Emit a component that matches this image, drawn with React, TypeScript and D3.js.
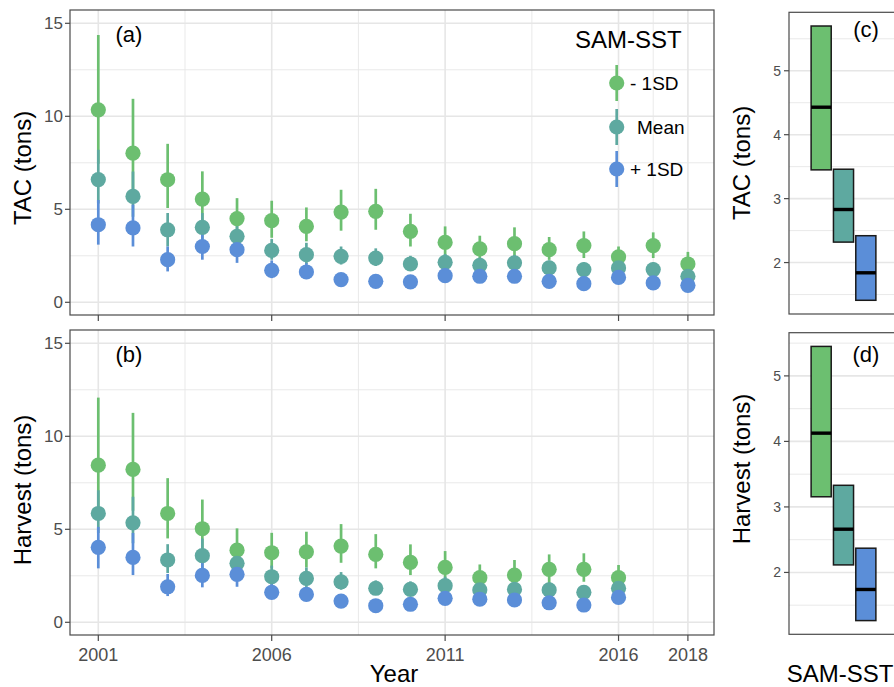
import React from "react";
import * as d3 from "d3";

const FONT = "'Liberation Sans', Arial, Helvetica, sans-serif";

// categories
const seriesNames = ["- 1SD", "Mean", "+ 1SD"];
const seriesColors = ["#6cbf70", "#5ea9a0", "#5b8ed8"];

const tacYears = [2001, 2002, 2003, 2004, 2005, 2006, 2007, 2008, 2009, 2010, 2011, 2012, 2013, 2014, 2015, 2016, 2017, 2018];
const harvestYears = [2001, 2002, 2003, 2004, 2005, 2006, 2007, 2008, 2009, 2010, 2011, 2012, 2013, 2014, 2015, 2016];

// TAC (tons), panel (a)
const tacMinusMid = [10.35, 8.02, 6.59, 5.55, 4.5, 4.39, 4.08, 4.85, 4.89, 3.81, 3.22, 2.87, 3.15, 2.83, 3.05, 2.44, 3.05, 2.06];
const tacMinusHi = [14.37, 10.94, 8.52, 7.04, 5.6, 5.46, 5.1, 6.05, 6.1, 4.76, 4.08, 3.58, 4.03, 3.51, 3.81, 3.0, 3.76, 2.71];
const tacMinusLo = [7.45, 5.9, 5.07, 4.4, 3.6, 3.47, 3.28, 3.85, 3.9, 3.0, 2.5, 2.3, 2.45, 2.28, 2.38, 1.98, 2.38, 1.6];

const tacMeanMid = [6.6, 5.69, 3.9, 4.03, 3.55, 2.79, 2.56, 2.47, 2.38, 2.06, 2.15, 1.99, 2.12, 1.85, 1.76, 1.85, 1.76, 1.4];
const tacMeanHi = [8.2, 7.03, 4.8, 4.8, 4.3, 3.4, 3.2, 3.0, 2.9, 2.5, 2.6, 2.4, 2.55, 2.25, 2.15, 2.25, 2.15, 1.7];
const tacMeanLo = [5.31, 4.6, 3.0, 3.38, 2.93, 2.29, 2.05, 2.03, 1.95, 1.7, 1.78, 1.65, 1.76, 1.52, 1.44, 1.52, 1.44, 1.15];

const tacPlusMid = [4.17, 4.0, 2.29, 3.0, 2.83, 1.72, 1.63, 1.22, 1.13, 1.1, 1.43, 1.4, 1.4, 1.13, 1.0, 1.34, 1.04, 0.91];
const tacPlusHi = [5.5, 5.25, 3.0, 3.8, 3.6, 2.25, 2.1, 1.55, 1.45, 1.4, 1.8, 1.75, 1.75, 1.45, 1.28, 1.7, 1.35, 1.18];
const tacPlusLo = [3.1, 3.0, 1.66, 2.29, 2.12, 1.3, 1.25, 0.95, 0.88, 0.86, 1.12, 1.1, 1.1, 0.88, 0.78, 1.05, 0.8, 0.7];

// Harvest (tons), panel (b)
const harvMinusMid = [8.45, 8.22, 5.85, 5.03, 3.88, 3.74, 3.79, 4.1, 3.65, 3.22, 2.95, 2.4, 2.54, 2.85, 2.85, 2.4];
const harvMinusHi = [12.08, 11.26, 7.75, 6.6, 5.05, 4.81, 4.87, 5.28, 4.74, 4.19, 3.83, 3.11, 3.35, 3.65, 3.71, 3.08];
const harvMinusLo = [5.9, 6.0, 4.51, 3.85, 2.98, 2.9, 2.95, 3.2, 2.9, 2.54, 2.27, 1.85, 1.93, 2.09, 2.18, 1.87];

const harvMeanMid = [5.85, 5.35, 3.35, 3.58, 3.17, 2.45, 2.36, 2.18, 1.83, 1.77, 1.97, 1.74, 1.77, 1.74, 1.61, 1.83];
const harvMeanHi = [7.1, 6.75, 4.2, 4.5, 3.9, 3.05, 2.95, 2.7, 2.25, 2.2, 2.45, 2.15, 2.2, 2.15, 2.0, 2.25];
const harvMeanLo = [4.8, 4.25, 2.65, 2.85, 2.55, 1.95, 1.9, 1.75, 1.48, 1.42, 1.58, 1.4, 1.42, 1.4, 1.3, 1.48];

const harvPlusMid = [4.03, 3.49, 1.91, 2.52, 2.58, 1.61, 1.5, 1.14, 0.89, 0.97, 1.29, 1.24, 1.2, 1.05, 0.93, 1.34];
const harvPlusHi = [5.13, 4.8, 2.6, 3.3, 3.3, 2.05, 1.9, 1.45, 1.15, 1.25, 1.65, 1.58, 1.52, 1.35, 1.2, 1.7];
const harvPlusLo = [2.9, 2.54, 1.41, 1.88, 1.91, 1.25, 1.17, 0.9, 0.7, 0.76, 1.0, 0.98, 0.95, 0.82, 0.73, 1.05];

// crossbars (c) and (d): [lower, middle, upper] per SAM-SST level
const tacSummary = [[3.45, 4.43, 5.7], [2.32, 2.83, 3.46], [1.41, 1.84, 2.42]];
const harvSummary = [[3.155, 4.126, 5.45], [2.115, 2.66, 3.33], [1.265, 1.74, 2.37]];

// ticks
const yMajor = [0, 5, 10, 15];
const yMinor = [2.5, 7.5, 12.5];
const xMajor = [2001, 2006, 2011, 2016, 2018];
const xMinor = [2003.5, 2008.5, 2013.5, 2017];
const boxMajor = [2, 3, 4, 5];
const boxMinor = [1.5, 2.5, 3.5, 4.5, 5.5];

const GRID = "#e6e6e6";
const BORDER = "#4a4a4a";
const TICKTXT = "#4d4d4d";

const L = 70, R = 714; // left panels
const RL = 789, RR = 897; // right panels

function PointPanel(props) {
  const { top, bottom, years, groups, tag, yTitle, titleY, showXLabels } = props;
  const x = d3.scaleLinear().domain([2001, 2018]).range([98.3, 687.9]);
  const y = d3.scaleLinear().domain([0, 15]).range([bottom - 12.7, top + 13.3]);

  return (
    <g>
      <rect x={L} y={top} width={R - L} height={bottom - top} fill="white" />
      {yMinor.map(v => <line key={"ym" + v} x1={L} x2={R} y1={y(v)} y2={y(v)} stroke={GRID} strokeWidth={0.9} />)}
      {xMinor.map(v => <line key={"xm" + v} x1={x(v)} x2={x(v)} y1={top} y2={bottom} stroke={GRID} strokeWidth={0.9} />)}
      {yMajor.map(v => <line key={"yM" + v} x1={L} x2={R} y1={y(v)} y2={y(v)} stroke={GRID} strokeWidth={1.6} />)}
      {xMajor.map(v => <line key={"xM" + v} x1={x(v)} x2={x(v)} y1={top} y2={bottom} stroke={GRID} strokeWidth={1.6} />)}

      {/* error bars first, all groups, then the points on top */}
      {groups.map((g, gi) => years.map((yr, i) => (
        <line key={"e" + gi + "-" + i} x1={x(yr)} x2={x(yr)} y1={y(g.lo[i])} y2={y(g.hi[i])}
          stroke={seriesColors[gi]} strokeWidth={2.7} />
      )))}
      {groups.map((g, gi) => years.map((yr, i) => (
        <circle key={"p" + gi + "-" + i} cx={x(yr)} cy={y(g.mid[i])} r={7.6} fill={seriesColors[gi]} />
      )))}

      <rect x={L} y={top} width={R - L} height={bottom - top} fill="none" stroke={BORDER} strokeWidth={1.2} />

      {yMajor.map(v => (
        <g key={"yt" + v}>
          <line x1={L - 5} x2={L} y1={y(v)} y2={y(v)} stroke={BORDER} strokeWidth={1.2} />
          <text x={L - 7} y={y(v)} textAnchor="end" dominantBaseline="central" fontSize={17} fill={TICKTXT} fontFamily={FONT}>{v}</text>
        </g>
      ))}
      {xMajor.map(v => (
        <g key={"xt" + v}>
          <line x1={x(v)} x2={x(v)} y1={bottom} y2={bottom + 6} stroke={BORDER} strokeWidth={1.2} />
          {showXLabels && (
            <text x={x(v)} y={bottom + 26} textAnchor="middle" fontSize={18} fill={TICKTXT} fontFamily={FONT}>{v}</text>
          )}
        </g>
      ))}

      <text x={129} y={top + 24} textAnchor="middle" dominantBaseline="central" fontSize={22} fontFamily={FONT} fill="black">{tag}</text>
      <text transform={`translate(22, ${titleY}) rotate(-90)`} textAnchor="middle" dominantBaseline="central"
        fontSize={24} fontFamily={FONT} fill="black">{yTitle}</text>
    </g>
  );
}

function BoxPanel(props) {
  const { top, bottom, summary, tag, tagY, yTitle, titleY } = props;
  const lo = d3.min(summary, d => d[0]);
  const hi = d3.max(summary, d => d[2]);
  const pad = (hi - lo) * 0.05;
  const y = d3.scaleLinear().domain([lo - pad, hi + pad]).range([bottom, top]);
  const x = d3.scaleBand().domain(seriesNames).range([810, 877]).paddingInner(0.1).paddingOuter(0.05);

  return (
    <g>
      <rect x={RL} y={top} width={RR - RL} height={bottom - top} fill="white" />
      {boxMinor.map(v => <line key={"bm" + v} x1={RL} x2={RR} y1={y(v)} y2={y(v)} stroke={GRID} strokeWidth={0.9} />)}
      {boxMajor.map(v => <line key={"bM" + v} x1={RL} x2={RR} y1={y(v)} y2={y(v)} stroke={GRID} strokeWidth={1.6} />)}

      {summary.map((s, i) => (
        <g key={"box" + i}>
          <rect x={x(seriesNames[i])} y={y(s[2])} width={x.bandwidth()} height={y(s[0]) - y(s[2])}
            fill={seriesColors[i]} stroke="#1a1a1a" strokeWidth={1.5} />
          <line x1={x(seriesNames[i])} x2={x(seriesNames[i]) + x.bandwidth()} y1={y(s[1])} y2={y(s[1])}
            stroke="black" strokeWidth={3.4} />
        </g>
      ))}

      <rect x={RL} y={top} width={RR - RL} height={bottom - top} fill="none" stroke={BORDER} strokeWidth={1.2} />

      {boxMajor.map(v => (
        <g key={"bt" + v}>
          <line x1={RL - 5} x2={RL} y1={y(v)} y2={y(v)} stroke={BORDER} strokeWidth={1.2} />
          <text x={RL - 8} y={y(v)} textAnchor="end" dominantBaseline="central" fontSize={14} fill={TICKTXT} fontFamily={FONT}>{v}</text>
        </g>
      ))}

      <text x={866} y={tagY} textAnchor="middle" dominantBaseline="central" fontSize={22} fontFamily={FONT} fill="black">{tag}</text>
      <text transform={`translate(741, ${titleY}) rotate(-90)`} textAnchor="middle" dominantBaseline="central"
        fontSize={24} fontFamily={FONT} fill="black">{yTitle}</text>
    </g>
  );
}

function Legend() {
  const keyY = [83, 127, 169];
  const labelX = [630, 637, 630];
  return (
    <g>
      <text x={575} y={48} fontSize={24} fontFamily={FONT} fill="black">SAM-SST</text>
      {seriesNames.map((n, i) => (
        <g key={n}>
          <line x1={616.7} x2={616.7} y1={keyY[i] - 18} y2={keyY[i] + 18} stroke={seriesColors[i]} strokeWidth={2.7} />
          <circle cx={616.7} cy={keyY[i]} r={7.6} fill={seriesColors[i]} />
          <text x={labelX[i]} y={keyY[i]} dominantBaseline="central" fontSize={19} fontFamily={FONT} fill="black">{n}</text>
        </g>
      ))}
    </g>
  );
}

export default function App() {
  const tacGroups = [
    { mid: tacMinusMid, lo: tacMinusLo, hi: tacMinusHi },
    { mid: tacMeanMid, lo: tacMeanLo, hi: tacMeanHi },
    { mid: tacPlusMid, lo: tacPlusLo, hi: tacPlusHi },
  ];
  const harvGroups = [
    { mid: harvMinusMid, lo: harvMinusLo, hi: harvMinusHi },
    { mid: harvMeanMid, lo: harvMeanLo, hi: harvMeanHi },
    { mid: harvPlusMid, lo: harvPlusLo, hi: harvPlusHi },
  ];

  return (
    <svg width={894} height={687} style={{ position: "absolute", left: 0, top: 0, background: "white" }}>
      <rect width={894} height={687} fill="white" />
      <PointPanel top={10} bottom={315} years={tacYears} groups={tacGroups} tag="(a)" yTitle="TAC (tons)" titleY={168} showXLabels={false} />
      <PointPanel top={330} bottom={635} years={harvestYears} groups={harvGroups} tag="(b)" yTitle="Harvest (tons)" titleY={490} showXLabels={true} />
      <Legend />
      <text x={394} y={682} textAnchor="middle" fontSize={24} fontFamily={FONT} fill="black">Year</text>

      <BoxPanel top={12.3} bottom={314} summary={tacSummary} tag="(c)" tagY={29} yTitle="TAC (tons)" titleY={163} />
      <BoxPanel top={332.7} bottom={634.3} summary={harvSummary} tag="(d)" tagY={354} yTitle="Harvest (tons)" titleY={469} />
      <text x={840} y={682} textAnchor="middle" fontSize={24} fontFamily={FONT} fill="black">SAM-SST</text>
    </svg>
  );
}
